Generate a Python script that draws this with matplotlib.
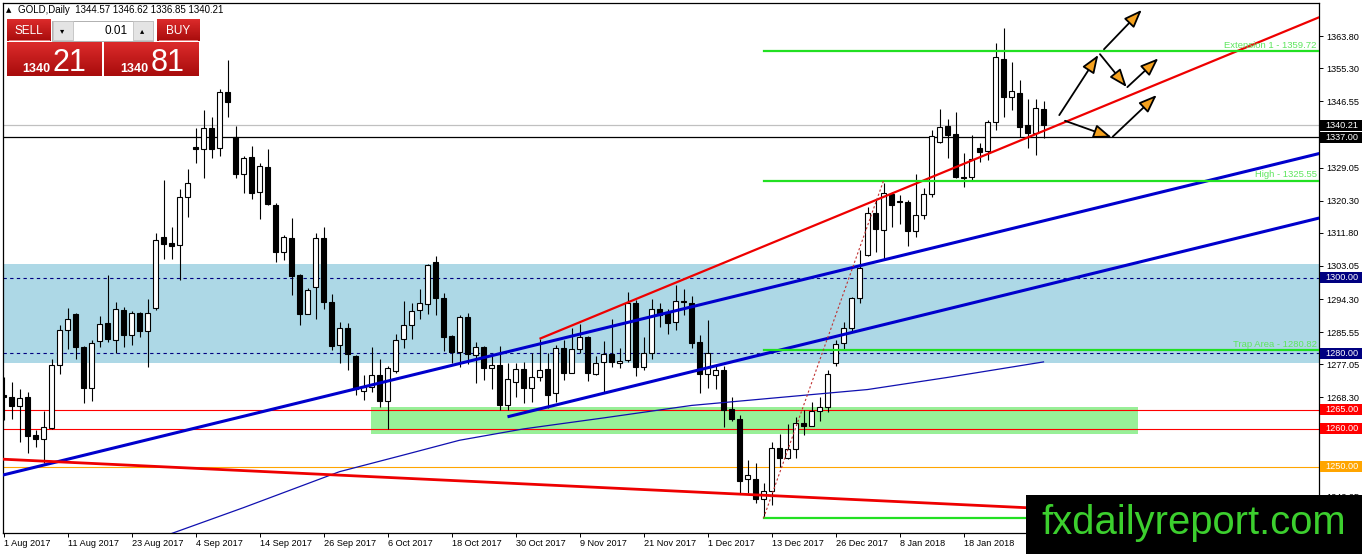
import numpy as np
import matplotlib
matplotlib.use('Agg')
import matplotlib.pyplot as plt
from matplotlib.patches import Rectangle
from matplotlib.colors import LinearSegmentedColormap
import matplotlib.transforms as mtransforms

plt.rcParams['font.family'] = ['Liberation Sans', 'DejaVu Sans']

# daily GOLD bars, 1 Aug 2017 .. 1 Feb 2018 (weekdays only)
opens = [1269.0, 1268.4, 1266.1, 1268.4, 1258.4, 1257.3, 1260.3, 1276.9, 1286.1, 1290.3,
         1281.7, 1270.9, 1283.2, 1287.9, 1283.5, 1291.4, 1284.7, 1290.5, 1285.9, 1291.9,
         1310.6, 1309.2, 1308.6, 1321.2, 1334.4, 1333.9, 1339.4, 1334.1, 1348.9, 1337.0,
         1327.3, 1331.8, 1322.5, 1329.1, 1319.2, 1306.7, 1310.4, 1300.7, 1290.4, 1297.6,
         1310.4, 1293.4, 1282.2, 1286.6, 1279.3, 1270.1, 1271.0, 1274.2, 1267.5, 1275.4,
         1283.7, 1287.4, 1291.4, 1292.9, 1304.2, 1294.5, 1284.6, 1280.2, 1289.5, 1279.5,
         1281.7, 1276.0, 1276.8, 1266.3, 1272.5, 1275.7, 1270.7, 1273.8, 1275.7, 1269.6,
         1281.3, 1274.7, 1281.0, 1284.4, 1274.4, 1277.6, 1279.8, 1277.3, 1278.2, 1293.3,
         1276.3, 1280.0, 1291.6, 1290.5, 1288.2, 1293.7, 1293.3, 1282.9, 1274.5, 1274.2,
         1275.6, 1265.2, 1262.5, 1246.7, 1246.7, 1241.4, 1243.7, 1254.9, 1252.2, 1254.6,
         1261.5, 1260.8, 1264.8, 1265.9, 1277.5, 1282.7, 1286.7, 1294.5, 1306.0, 1317.1,
         1312.5, 1322.1, 1320.1, 1319.9, 1312.2, 1316.4, 1322.1, 1335.9, 1340.0, 1337.9,
         1326.6, 1326.5, 1334.3, 1333.4, 1341.0, 1357.6, 1347.6, 1348.8, 1340.3, 1338.1,
         1344.57]
highs = [1273.8, 1272.5, 1270.5, 1269.7, 1259.7, 1264.8, 1278.5, 1287.4, 1292.0, 1290.5,
         1281.9, 1283.5, 1289.8, 1300.7, 1293.6, 1292.1, 1291.2, 1291.0, 1294.2, 1311.7,
         1325.8, 1313.3, 1323.3, 1328.6, 1339.4, 1344.2, 1342.3, 1349.7, 1357.5, 1340.0,
         1332.1, 1334.7, 1330.2, 1333.9, 1319.6, 1311.2, 1315.6, 1300.9, 1297.2, 1311.8,
         1313.4, 1295.6, 1288.3, 1287.9, 1279.5, 1274.2, 1281.7, 1278.6, 1276.5, 1285.0,
         1293.8, 1293.2, 1296.9, 1303.5, 1305.8, 1296.0, 1284.8, 1290.1, 1290.7, 1283.0,
         1281.9, 1279.5, 1281.9, 1277.5, 1277.4, 1277.7, 1280.1, 1283.7, 1280.0, 1282.2,
         1283.5, 1286.6, 1287.7, 1284.6, 1279.3, 1283.2, 1289.0, 1281.3, 1296.3, 1294.1,
         1284.2, 1294.2, 1293.2, 1291.6, 1298.0, 1297.0, 1295.1, 1284.8, 1288.8, 1276.5,
         1276.6, 1268.5, 1263.7, 1251.8, 1250.9, 1245.6, 1256.6, 1258.6, 1261.3, 1263.2,
         1265.0, 1267.2, 1268.5, 1275.6, 1283.5, 1288.3, 1294.8, 1307.3, 1318.5, 1320.7,
         1325.0, 1322.7, 1321.8, 1320.5, 1327.3, 1323.6, 1339.0, 1344.5, 1341.8, 1343.8,
         1332.8, 1337.6, 1335.6, 1341.6, 1362.0, 1365.8, 1357.0, 1352.2, 1347.1, 1347.1,
         1346.62]
lows = [1262.3, 1262.5, 1256.6, 1253.7, 1255.3, 1251.1, 1260.0, 1274.5, 1281.0, 1278.4,
        1266.9, 1267.5, 1281.6, 1283.0, 1280.1, 1281.7, 1282.2, 1284.2, 1276.3, 1291.4,
        1304.8, 1304.8, 1299.3, 1316.1, 1330.2, 1326.2, 1331.5, 1332.1, 1342.5, 1326.2,
        1322.4, 1320.7, 1315.4, 1319.2, 1304.2, 1304.6, 1295.4, 1287.4, 1290.4, 1289.0,
        1291.6, 1280.8, 1277.3, 1275.6, 1268.9, 1267.6, 1269.8, 1265.9, 1259.9, 1274.7,
        1281.3, 1283.7, 1289.0, 1290.4, 1290.1, 1280.7, 1277.5, 1276.3, 1277.1, 1272.0,
        1273.0, 1270.5, 1265.0, 1265.0, 1268.5, 1266.9, 1267.2, 1272.7, 1265.4, 1267.2,
        1272.9, 1274.7, 1280.0, 1272.7, 1274.2, 1269.6, 1276.3, 1276.0, 1277.7, 1273.9,
        1275.6, 1278.6, 1287.0, 1285.1, 1286.1, 1290.1, 1281.5, 1269.6, 1270.7, 1270.5,
        1260.4, 1262.2, 1243.1, 1243.1, 1240.3, 1236.4, 1239.9, 1250.0, 1252.0, 1252.2,
        1258.4, 1260.8, 1262.2, 1264.5, 1276.5, 1281.0, 1285.7, 1293.3, 1305.7, 1306.8,
        1304.8, 1313.3, 1314.1, 1308.4, 1310.8, 1315.4, 1321.2, 1335.5, 1331.5, 1326.2,
        1324.0, 1325.8, 1330.6, 1331.0, 1339.0, 1342.3, 1344.2, 1337.0, 1334.1, 1332.4,
        1336.85]
closes = [1268.4, 1266.1, 1268.1, 1258.2, 1257.3, 1260.4, 1276.9, 1286.1, 1289.0, 1281.7,
          1270.9, 1282.6, 1287.6, 1283.7, 1291.6, 1284.7, 1290.5, 1285.9, 1290.7, 1309.9,
          1308.9, 1308.3, 1321.2, 1324.9, 1333.9, 1339.4, 1333.9, 1348.9, 1346.3, 1327.3,
          1331.5, 1322.2, 1329.5, 1319.4, 1306.8, 1310.6, 1300.5, 1290.4, 1296.7, 1310.4,
          1293.4, 1282.0, 1286.6, 1279.8, 1270.5, 1271.1, 1274.2, 1267.4, 1276.2, 1283.5,
          1287.4, 1291.1, 1293.2, 1303.3, 1294.5, 1284.4, 1280.4, 1289.5, 1279.8, 1281.7,
          1276.0, 1276.8, 1266.3, 1273.1, 1275.7, 1270.7, 1273.8, 1275.6, 1269.0, 1281.3,
          1274.7, 1281.0, 1284.4, 1274.9, 1277.5, 1279.7, 1277.6, 1277.9, 1293.3, 1276.3,
          1280.0, 1291.6, 1290.1, 1287.9, 1293.9, 1293.5, 1282.8, 1274.5, 1280.0, 1275.6,
          1265.0, 1262.5, 1246.3, 1247.8, 1241.4, 1243.7, 1254.9, 1252.2, 1254.6, 1261.5,
          1260.8, 1264.8, 1265.9, 1274.5, 1282.4, 1286.6, 1294.5, 1302.4, 1317.0, 1312.7,
          1322.4, 1319.2, 1319.9, 1312.2, 1316.4, 1322.1, 1337.4, 1339.7, 1337.7, 1326.5,
          1326.2, 1331.2, 1333.2, 1341.0, 1358.2, 1347.8, 1349.2, 1339.8, 1338.1, 1344.7,
          1340.21]

date_labels = ['1 Aug 2017', '11 Aug 2017', '23 Aug 2017', '4 Sep 2017', '14 Sep 2017',
               '26 Sep 2017', '6 Oct 2017', '18 Oct 2017', '30 Oct 2017', '9 Nov 2017',
               '21 Nov 2017', '1 Dec 2017', '13 Dec 2017', '26 Dec 2017', '8 Jan 2018',
               '18 Jan 2018']
bars_per_label = 8

price_ticks = [1363.80, 1355.30, 1346.55, 1337.80, 1329.05, 1320.30, 1311.80, 1303.05,
               1294.30, 1285.55, 1277.05, 1268.30, 1259.55, 1250.80, 1242.05]

# thin moving average
ma_bars = [20, 30, 42, 50, 57, 65, 75, 86, 97, 108, 118, 130]
ma_vals = [1231.6, 1239.2, 1248.7, 1253.1, 1257.0, 1260.0, 1262.9, 1266.2, 1268.3, 1270.4,
           1273.6, 1277.7]

bid = 1340.21
black_level = 1337.00
blue_zone = (1277.5, 1303.6)
navy_levels = [1300.00, 1280.00]
red_levels = [1265.00, 1260.00]
orange_level = 1250.00
green_zone = (1258.6, 1265.9)
green_zone_bars = (45.9, 141.8)

fib_from_bar = 95
fib_levels = [1359.72, 1325.55, 1280.82, 1236.4]
fib_names = ['Extension 1', 'High', 'Trap Area', '']
fib_swing = [(95, 1236.4), (110, 1325.55)]

# trend line anchors (bar, price); all are rays to the right
red_channel = [(67, 1283.8), (120, 1330.0)]
blue_long = [(-0.1, 1247.8), (120, 1309.8)]
blue_channel = [(63, 1263.2), (120, 1292.7)]
red_down = [(-0.1, 1252.0), (127.7, 1239.2)]

# scenario arrows (bar, price) start -> end
arrows = [((131.97, 1342.9), (136.85, 1358.8)),
          ((137.56, 1360.3), (142.28, 1370.7)),
          ((137.06, 1359.0), (140.40, 1350.3)),
          ((140.48, 1350.3), (144.35, 1357.9)),
          ((132.69, 1341.4), (138.53, 1337.0)),
          ((138.65, 1337.2), (144.15, 1348.2))]

W, H = 1362, 554
fig = plt.figure(figsize=(W / 100, H / 100), dpi=100)
ax = fig.add_axes([2.7 / W, 21 / H, 1316.6 / W, 530.3 / H])
XMIN, XMAX = -0.1, 164.475
ax.set_xlim(XMIN, XMAX)
ax.set_ylim(1232.5, 1372.6)

o = np.array(opens); h = np.array(highs); l = np.array(lows); c = np.array(closes)
x = np.arange(len(o))

# background zones
ax.axhspan(blue_zone[0], blue_zone[1], color='#add8e6', lw=0, zorder=0.5)
ax.add_patch(Rectangle((green_zone_bars[0], green_zone[0]),
                       green_zone_bars[1] - green_zone_bars[0], green_zone[1] - green_zone[0],
                       color='#98f098', lw=0, zorder=0.6))

# horizontal levels
ax.axhline(bid, color='#c0c0c0', lw=0.9, zorder=1)
ax.axhline(black_level, color='black', lw=0.9, zorder=1)
for lv in navy_levels:
    ax.axhline(lv, color='#000080', lw=0.8, ls=(0, (3, 3)), zorder=1)
for lv in red_levels:
    ax.axhline(lv, color='#ff0000', lw=0.8, zorder=1)
ax.axhline(orange_level, color='#ffa500', lw=0.8, zorder=1)

# candles
up = c >= o
ax.vlines(x, l, h, color='black', lw=0.8, zorder=3)
body = np.maximum(np.abs(c - o), 0.3)
ax.bar(x[up], body[up], bottom=np.minimum(o, c)[up], width=0.62,
       color='white', edgecolor='black', lw=0.8, zorder=4)
ax.bar(x[~up], body[~up], bottom=np.minimum(o, c)[~up], width=0.62,
       color='black', edgecolor='black', lw=0.8, zorder=4)

# moving average
ax.plot(ma_bars, ma_vals, color='#1010b0', lw=0.9, zorder=5)


def ray(pts, **kw):
    (x0, y0), (x1, y1) = pts
    k = (y1 - y0) / (x1 - x0)
    ax.plot([x0, XMAX], [y0, y0 + k * (XMAX - x0)], solid_capstyle='butt', **kw)


ray(blue_long, color='#0000cc', lw=2.2, zorder=6)
ray(blue_channel, color='#0000cc', lw=2.2, zorder=6)
ray(red_channel, color='#ee0000', lw=1.6, zorder=6)
ray(red_down, color='#ee0000', lw=2.0, zorder=6)

# fibonacci expansion
for lv, name in zip(fib_levels, fib_names):
    ax.plot([fib_from_bar, XMAX], [lv, lv], color='#22e022', lw=1.6, zorder=6)
    if name:
        ax.text(XMAX - 0.3, lv + 0.4, f'{name} - {lv:.2f}', color='#5ee65e',
                fontsize=6.8, ha='right', va='bottom', zorder=7)
ax.plot(*zip(*fib_swing), color='#c03030', lw=0.8, ls=(0, (2, 2)), zorder=6)

for start, end in arrows:
    ax.annotate('', xy=end, xytext=start, zorder=8,
                arrowprops=dict(arrowstyle='-|>,head_length=1.1,head_width=0.42',
                                mutation_scale=10, fc='#f5a21f', ec='black', lw=1.3,
                                shrinkA=0, shrinkB=0))

# axes styling
for sp in ax.spines.values():
    sp.set_linewidth(0.9)
    sp.set_color('black')
ax.yaxis.tick_right()
ax.set_yticks(price_ticks)
ax.set_yticklabels([f'{v:.2f}' for v in price_ticks])
ax.tick_params(axis='y', direction='out', length=3, width=0.7, pad=2, labelsize=6.6)
ax.set_xticks(np.arange(len(date_labels)) * bars_per_label)
ax.set_xticklabels(date_labels)
ax.tick_params(axis='x', direction='out', length=3, width=0.7, pad=1.5, labelsize=6.6)
for lab in ax.get_xticklabels():
    lab.set_ha('left')

# price tags on the right scale
trans = mtransforms.blended_transform_factory(ax.transAxes, ax.transData)
tags = [(bid, 'black'), (black_level, 'black'), (navy_levels[0], '#000080'),
        (navy_levels[1], '#000080'), (red_levels[0], '#ff0000'), (red_levels[1], '#ff0000'),
        (orange_level, '#ffa500')]
for p, col in tags:
    ax.add_patch(Rectangle((1.0009, p - 1.45), 0.033, 2.9, transform=trans,
                           color=col, lw=0, clip_on=False, zorder=10))
    ax.text(1.0045, p, f'{p:.2f}', transform=trans, color='white', fontsize=6.6,
            va='center', ha='left', zorder=11)

# overlay in pixel units: trade panel, header, watermark
ov = fig.add_axes([0, 0, 1, 1])
ov.set_zorder(10)
ov.patch.set_visible(False)
ov.axis('off')
ov.set_autoscale_on(False)
ov.set_xlim(0, W)
ov.set_ylim(H, 0)

ov.text(6, 10, '\u25b2', fontsize=5, va='center', ha='left', family='DejaVu Sans')
ov.text(18, 10, 'GOLD,Daily  1344.57 1346.62 1336.85 1340.21', fontsize=7,
        va='center', ha='left')

red_grad = LinearSegmentedColormap.from_list('rg', ['#dc2b2b', '#a80c0c'])
grad = np.linspace(0, 1, 50).reshape(-1, 1)
for x0, x1 in [(6.7, 101.7), (104, 199)]:
    ov.imshow(grad, cmap=red_grad, extent=[x0, x1, 76, 42.3], aspect='auto', zorder=1)
for x0, x1, lab in [(6.7, 50.5, 'SELL'), (156.7, 199, 'BUY')]:
    ov.imshow(grad, cmap=red_grad, extent=[x0, x1, 41.5, 20], aspect='auto', zorder=1)
    ov.plot([x0 + 2, x1 - 2], [40.3, 40.3], color='#e98080', lw=0.7, zorder=2)
    ov.text((x0 + x1) / 2, 31, lab, color='white', fontsize=8.5, ha='center',
            va='center', zorder=3)
ov.add_patch(Rectangle((52, 20.5), 101, 20, fc='white', ec='#b0b0b0', lw=0.7, zorder=1))
for x0 in (52.5, 132.5):
    ov.add_patch(Rectangle((x0, 21), 20, 19, fc='#e4e4e4', ec='#c0c0c0', lw=0.6, zorder=2))
ov.text(62.5, 30.5, '\u25be', fontsize=6, ha='center', va='center', family='DejaVu Sans', zorder=3)
ov.text(142.5, 30.5, '\u25b4', fontsize=6, ha='center', va='center', family='DejaVu Sans', zorder=3)
ov.text(128, 31, '0.01', fontsize=8.5, ha='right', va='center', zorder=3)
for xs, xb, big in [(22, 53, '21'), (120, 151, '81')]:
    ov.text(xs, 71.5, '1340', color='white', fontsize=9, fontweight='bold',
            ha='left', va='baseline', zorder=3)
    ov.text(xb, 71, big, color='white', fontsize=22, ha='left', va='baseline', zorder=3)

ov.add_patch(Rectangle((1026, 495), W - 1026, H - 495, color='black', lw=0, zorder=5))
ov.text(1041, 533.5, 'fxdailyreport.com', color='#3ccf2e', fontsize=28.8,
        ha='left', va='baseline', zorder=6)

fig.savefig('out.png', dpi=100)
